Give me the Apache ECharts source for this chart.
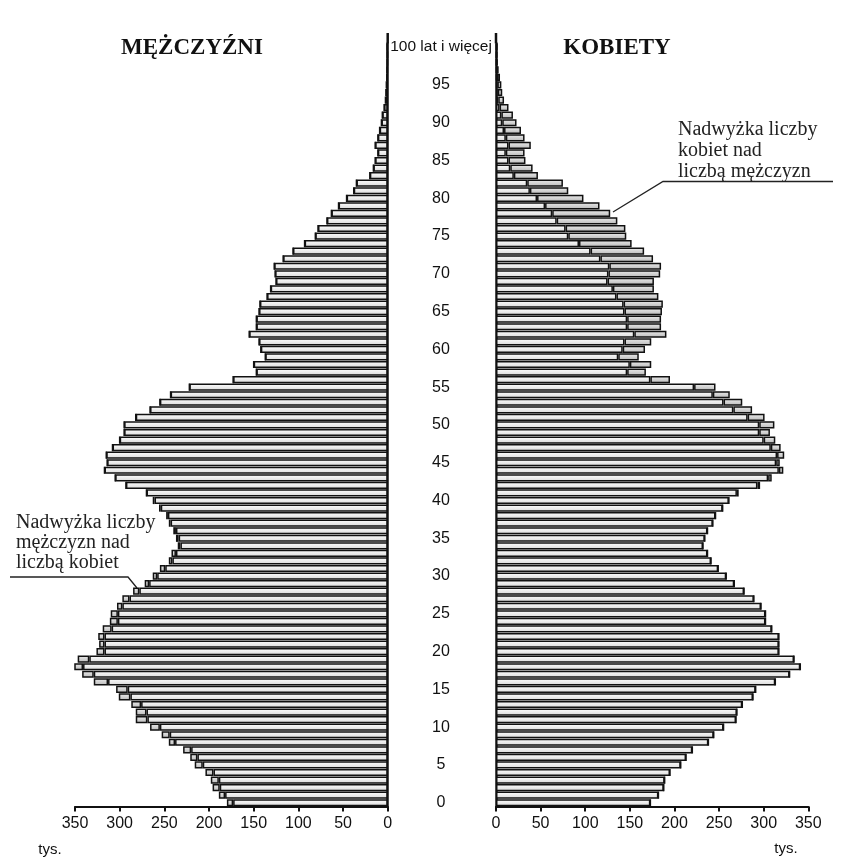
<!DOCTYPE html>
<html>
<head>
<meta charset="utf-8">
<title>Piramida wieku</title>
<script src="https://cdn.jsdelivr.net/npm/echarts@6/dist/echarts.min.js"></script>
<style>
html,body{margin:0;padding:0;background:#fff;}
#main{width:855px;height:859px;}
</style>
</head>
<body>
<div id="main"></div>
<script>
// wiek 0..100 (100 = 100 lat i więcej)
var ages = [];
for (var i = 0; i <= 100; i++) ages.push(String(i));
var topAgeLabel = '100 lat i więcej';
var xTicks = [0, 350, 50]; // min, max, interval (tys.)

// mężczyźni, tys.
var men = [180,189,196,198,204,216,221,229,245,253,
	266,282,282,287,301,304,329,342,351,347,
	326,323,324,319,311,310,303,297,285,272,
	263,255,245,242,235,237,240,245,248,256,
	263,270,293,305,317,314,315,308,300,295,
	295,282,266,255,243,222,173,147,150,137,
	142,144,155,147,147,144,143,135,131,125,
	126,127,117,106,93,81,78,68,63,55,
	46,38,35,20,16,14,11,14,11,9,
	7,6,4,2.5,2,1.5,1,0.8,0.5,0.4,0.5];
// kobiety, tys.
var women = [173,182,188,189,195,207,213,220,238,244,
	255,269,270,276,288,291,313,329,341,334,
	317,317,317,309,302,302,297,289,278,267,
	258,249,241,237,232,234,237,243,246,254,
	261,272,296,309,322,318,323,319,313,307,
	312,301,287,276,262,246,195,168,174,160,
	167,174,191,185,185,186,187,182,177,177,
	184,185,176,166,152,146,145,136,128,116,
	98,81,75,47,41,33,32,39,32,28,
	23,19,14,9,7,6,4.5,3,2,1.5,1.5];

// wspólna część i nadwyżka dla każdej płci
var common = [], menExtra = [], womenExtra = [];
for (var k = 0; k < men.length; k++) {
	var m = men[k], f = women[k];
	common.push(Math.min(m, f));
	menExtra.push(m > f ? m - f : 0);
	womenExtra.push(f > m ? f - m : 0);
}

var chart = function(){
	var myChart = echarts.init(document.getElementById('main'));
	var sans = "'Liberation Sans', Arial, sans-serif";
	var serif = "'Liberation Serif', 'Times New Roman', serif";
	var gTop = 43.4, gBottom = 52.5;
	var baseFill = new echarts.graphic.LinearGradient(0, 0, 0, 1, [
		{offset: 0, color: '#ffffff'}, {offset: 1, color: '#d8d8d8'}]);
	var extraFill = new echarts.graphic.LinearGradient(0, 0, 0, 1, [
		{offset: 0, color: '#ececec'}, {offset: 1, color: '#b8b8b8'}]);
	var bar = function(name, data, idx, stack, fill){
		return {
			name: name, type: 'bar', stack: stack, data: data,
			xAxisIndex: idx, yAxisIndex: idx,
			barCategoryGap: '5%',
			itemStyle: {color: fill, borderColor: '#111', borderWidth: 1.5}
		};
	};
	var xAx = function(idx, inverse){
		return {
			type: 'value', gridIndex: idx, inverse: inverse,
			min: xTicks[0], max: xTicks[1], interval: xTicks[2],
			position: 'bottom',
			splitLine: {show: false},
			axisLine: {show: true, lineStyle: {color: '#111', width: 2}},
			axisTick: {show: true, length: 5, lineStyle: {color: '#111', width: 2}},
			axisLabel: {color: '#111', fontSize: 16, fontFamily: sans, margin: 9}
		};
	};
	var option = {
		animation: false,
		backgroundColor: '#fff',
		grid: [
			{left: 75, right: 467.3, top: gTop, bottom: gBottom},
			{left: 496, right: 46.7, top: gTop, bottom: gBottom}
		],
		xAxis: [xAx(0, true), xAx(1, false)],
		yAxis: [
			{
				type: 'category', gridIndex: 0, data: ages, position: 'right',
				axisLine: {show: true, lineStyle: {color: '#111', width: 2.5}},
				axisTick: {show: false}, axisLabel: {show: false}
			},
			{
				type: 'category', gridIndex: 1, data: ages, position: 'left',
				axisLine: {show: true, lineStyle: {color: '#111', width: 2.5}},
				axisTick: {show: false},
				axisLabel: {
					interval: 0, align: 'center', margin: 55,
					color: '#111', fontSize: 16, fontFamily: sans,
					formatter: function(v, index){
						if (index === 100) return '{top|' + topAgeLabel + '}';
						return index % 5 === 0 ? v : '';
					},
					rich: {top: {fontSize: 15.5, fontFamily: sans, color: '#111'}}
				}
			}
		],
		series: [
			bar('Mężczyźni', common, 0, 'm', baseFill),
			bar('Nadwyżka mężczyzn', menExtra, 0, 'm', extraFill),
			bar('Kobiety', common, 1, 'f', baseFill),
			bar('Nadwyżka kobiet', womenExtra, 1, 'f', extraFill)
		],
		graphic: [
			{type: 'text', x: 192, y: 48, style: {text: 'MĘŻCZYŹNI', font: 'bold 23px ' + serif, fill: '#111', align: 'center', verticalAlign: 'middle'}},
			{type: 'text', x: 617, y: 48, style: {text: 'KOBIETY', font: 'bold 23px ' + serif, fill: '#111', align: 'center', verticalAlign: 'middle'}},
			{type: 'text', x: 16, y: 513, style: {text: 'Nadwyżka liczby\nmężczyzn nad\nliczbą kobiet', font: '20px ' + serif, lineHeight: 20, fill: '#222'}},
			{type: 'text', x: 678, y: 119, style: {text: 'Nadwyżka liczby\nkobiet nad\nliczbą mężczyzn', font: '20px ' + serif, lineHeight: 21, fill: '#222'}},
			{type: 'polyline', shape: {points: [[10, 577], [128, 577], [137, 588]]}, style: {stroke: '#222', lineWidth: 1.3, fill: null}},
			{type: 'polyline', shape: {points: [[613, 212], [663, 181.5], [833, 181.5]]}, style: {stroke: '#222', lineWidth: 1.3, fill: null}},
			{type: 'text', x: 50, y: 850, style: {text: 'tys.', font: '15px ' + sans, fill: '#111', align: 'center', verticalAlign: 'middle'}},
			{type: 'text', x: 786, y: 849, style: {text: 'tys.', font: '15px ' + sans, fill: '#111', align: 'center', verticalAlign: 'middle'}},
			{type: 'line', shape: {x1: 387.7, y1: 33, x2: 387.7, y2: gTop}, style: {stroke: '#111', lineWidth: 2.5}},
			{type: 'line', shape: {x1: 496, y1: 33, x2: 496, y2: gTop}, style: {stroke: '#111', lineWidth: 2.5}}
		]
	};
	myChart.setOption(option);
};
chart();
</script>
</body>
</html>
